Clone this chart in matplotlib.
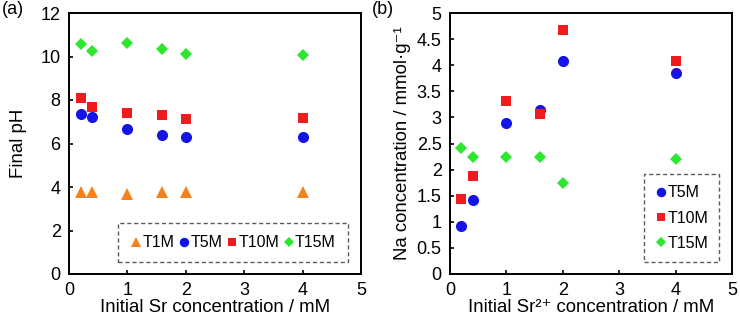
import matplotlib
matplotlib.use("Agg")
import matplotlib.pyplot as plt

plt.rcParams['font.family'] = ['Liberation Sans', 'DejaVu Sans']

sr_conc = [0.2, 0.4, 1.0, 1.6, 2.0, 4.0]

# panel (a): final pH
ph_T1M = [3.78, 3.75, 3.70, 3.75, 3.75, 3.75]
ph_T5M = [7.37, 7.22, 6.66, 6.37, 6.32, 6.32]
ph_T10M = [8.09, 7.69, 7.41, 7.33, 7.13, 7.16]
ph_T15M = [10.57, 10.26, 10.64, 10.36, 10.10, 10.06]

# panel (b): Na concentration
na_T5M = [0.91, 1.42, 2.89, 3.14, 4.08, 3.86]
na_T10M = [1.44, 1.88, 3.32, 3.07, 4.68, 4.09]
na_T15M = [2.42, 2.25, 2.25, 2.25, 1.75, 2.20]

series_names = ['T1M', 'T5M', 'T10M', 'T15M']
colors = {'T1M': '#F5821F', 'T5M': '#1414E6', 'T10M': '#EE1C1C', 'T15M': '#2EE62E'}
markers = {'T1M': '^', 'T5M': 'o', 'T10M': 's', 'T15M': 'D'}
msizes = {'T1M': 8.0, 'T5M': 8.0, 'T10M': 7.5, 'T15M': 6.5}

fig = plt.figure(figsize=(7.4, 3.26), dpi=100)
axA = fig.add_axes([69/740, 52/326, 292/740, 261/326])
axB = fig.add_axes([450/740, 52/326, 282/740, 261/326])

def style(ax):
    for s in ax.spines.values():
        s.set_linewidth(1.4)
        s.set_color('black')
    ax.tick_params(direction='in', length=3, width=1.2, labelsize=13, pad=6)

dataA = {'T1M': ph_T1M, 'T5M': ph_T5M, 'T10M': ph_T10M, 'T15M': ph_T15M}
for n in series_names:
    axA.plot(sr_conc, dataA[n], linestyle='none', marker=markers[n], ms=msizes[n],
             color=colors[n], markeredgewidth=0, label=n)
axA.set_xlim(0, 5)
axA.set_ylim(0, 12)
axA.set_xticks(range(0, 6))
axA.set_yticks(range(0, 13, 2))
axA.set_xlabel('Initial Sr concentration / mM', fontsize=13.4, labelpad=0)
axA.set_ylabel('Final pH', fontsize=13.4, labelpad=10)
style(axA)
legA = axA.legend(ncol=4, loc='lower right', bbox_to_anchor=(0.955, 0.045), fontsize=11.5,
                  markerscale=0.85, handlelength=0.7, handletextpad=0.05, columnspacing=0.25,
                  borderpad=0.75, frameon=True, fancybox=False, borderaxespad=0)
legA.get_frame().set_linestyle((0, (3, 2)))
legA.get_frame().set_edgecolor('#333333')
legA.get_frame().set_linewidth(1.0)

dataB = {'T5M': na_T5M, 'T10M': na_T10M, 'T15M': na_T15M}
for n in ['T5M', 'T10M', 'T15M']:
    axB.plot(sr_conc, dataB[n], linestyle='none', marker=markers[n], ms=msizes[n],
             color=colors[n], markeredgewidth=0, label=n)
axB.set_xlim(0, 5)
axB.set_ylim(0, 5)
axB.set_xticks(range(0, 6))
axB.set_yticks([0, 0.5, 1, 1.5, 2, 2.5, 3, 3.5, 4, 4.5, 5])
axB.set_yticklabels(['0', '0.5', '1', '1.5', '2', '2.5', '3', '3.5', '4', '4.5', '5'])
axB.set_xlabel('Initial Sr\u00b2\u207a concentration / mM', fontsize=13.4, labelpad=0)
axB.set_ylabel('Na concentration / mmol\u00b7g\u207b\u00b9', fontsize=13.4, labelpad=4)
style(axB)
legB = axB.legend(ncol=1, loc='lower right', bbox_to_anchor=(0.955, 0.045), fontsize=11.5,
                  markerscale=0.85, handlelength=0.7, handletextpad=0.05, labelspacing=0.65,
                  borderpad=0.7, frameon=True, fancybox=False, borderaxespad=0)
legB.get_frame().set_linestyle((0, (3, 2)))
legB.get_frame().set_edgecolor('#333333')
legB.get_frame().set_linewidth(1.0)

fig.text(2/740, 1 - 10/326, '(a)', fontsize=13, va='center', ha='left')
fig.text(372/740, 1 - 10/326, '(b)', fontsize=13, va='center', ha='left')

fig.savefig('out.png', dpi=100)
